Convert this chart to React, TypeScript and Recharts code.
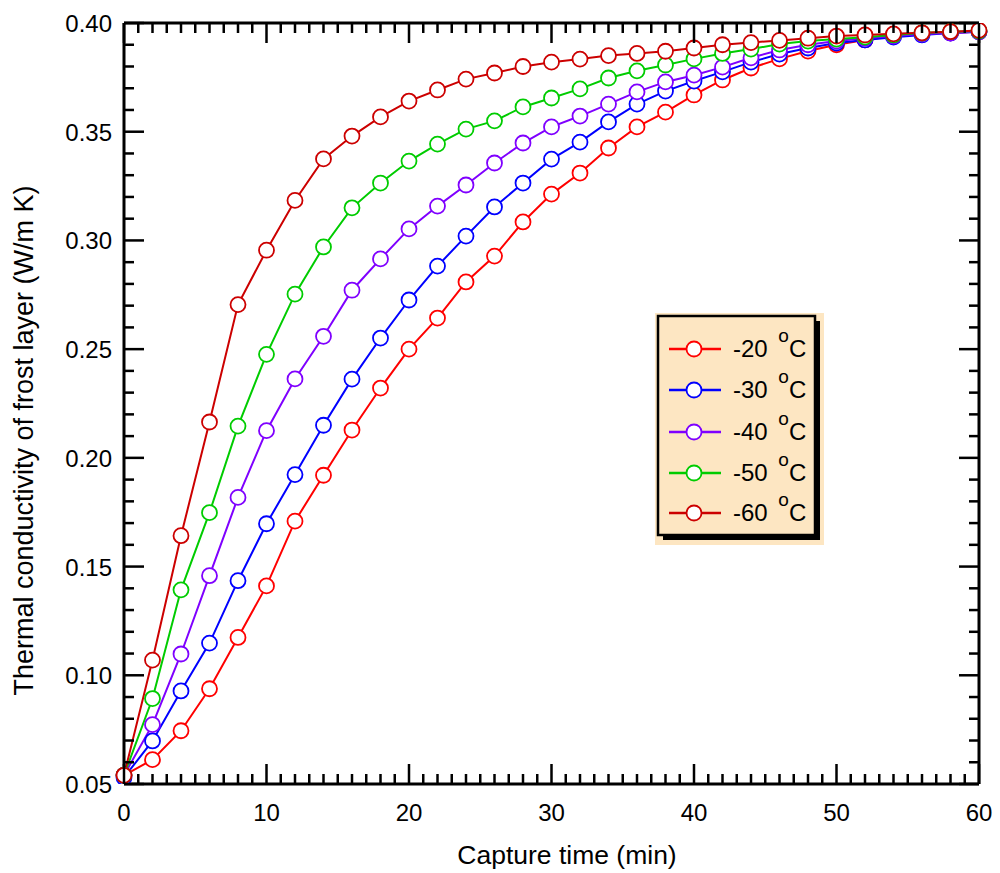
import { Legend, Line, LineChart, ReferenceLine, XAxis, YAxis } from "recharts"

// capture time, min
const time = [0, 2, 4, 6, 8, 10, 12, 14, 16, 18, 20, 22, 24, 26, 28, 30, 32, 34, 36, 38, 40, 42, 44, 46, 48, 50, 52, 54, 56, 58, 60]

// thermal conductivity of frost layer, W/m K
const minus20 = [0.054, 0.0612, 0.0745, 0.0938, 0.1174, 0.1411, 0.1709, 0.192, 0.2128, 0.2321, 0.25, 0.2643, 0.2809, 0.2928, 0.3085, 0.3213, 0.331, 0.3425, 0.3522, 0.359, 0.3669, 0.3738, 0.3793, 0.3835, 0.3871, 0.39, 0.3922, 0.394, 0.395, 0.3955, 0.396]
const minus30 = [0.053, 0.0698, 0.0928, 0.1148, 0.1435, 0.1697, 0.1923, 0.215, 0.2362, 0.2551, 0.2726, 0.2882, 0.302, 0.3154, 0.3264, 0.3374, 0.3452, 0.3545, 0.3627, 0.3687, 0.3733, 0.3775, 0.382, 0.3857, 0.3885, 0.3908, 0.3922, 0.3935, 0.3945, 0.3954, 0.396]
const minus40 = [0.054, 0.0773, 0.1098, 0.1458, 0.1818, 0.2125, 0.2363, 0.2559, 0.2771, 0.2915, 0.3053, 0.3158, 0.3255, 0.3356, 0.3448, 0.3522, 0.3572, 0.3627, 0.3683, 0.3729, 0.376, 0.3797, 0.384, 0.3876, 0.39, 0.3917, 0.393, 0.394, 0.3949, 0.3954, 0.396]
const minus50 = [0.054, 0.0893, 0.1393, 0.1748, 0.2146, 0.2476, 0.2753, 0.297, 0.315, 0.3264, 0.3365, 0.3443, 0.3512, 0.355, 0.3614, 0.3655, 0.3697, 0.3747, 0.378, 0.3807, 0.3835, 0.386, 0.388, 0.3903, 0.3917, 0.3926, 0.3935, 0.3945, 0.3954, 0.396, 0.3963]
const minus60 = [0.054, 0.107, 0.1642, 0.2165, 0.2705, 0.2955, 0.3184, 0.3375, 0.348, 0.3568, 0.3641, 0.3692, 0.3742, 0.377, 0.38, 0.382, 0.3834, 0.385, 0.386, 0.387, 0.3885, 0.39, 0.391, 0.392, 0.393, 0.394, 0.3945, 0.395, 0.3955, 0.396, 0.3966]

const seriesNames = ["-20", "-30", "-40", "-50", "-60"]
const seriesKeys = ["m20", "m30", "m40", "m50", "m60"]
const seriesValues = [minus20, minus30, minus40, minus50, minus60]
const seriesColors = ["#ff0000", "#0000ff", "#7f00ff", "#00cc00", "#cc0000"]

// axis ticks: minor every 1 min / 0.01, labels on majors
const xTicks = Array.from({ length: 61 }, (_, i) => i)
const yTicks = Array.from({ length: 36 }, (_, i) => Math.round((0.05 + i * 0.01) * 100) / 100)

const data = time.map((t, i) => {
    const row: Record<string, number> = { t }
    seriesKeys.forEach((k, j) => { row[k] = seriesValues[j][i] })
    return row
})

const FONT = "'Liberation Sans', Arial, sans-serif"
const PLOT_W = 855
const PLOT_H = 761
const TICK_W = 2.5
const LEGEND_BG = "#fde6c2"

function XTick(props: any) {
    const { x, y, payload } = props
    const v = payload.value
    const major = v % 10 === 0
    const len = major ? 20 : 10
    return (
        <g>
            <line x1={x} x2={x} y1={y} y2={y - len} stroke="#000" strokeWidth={TICK_W} />
            <line x1={x} x2={x} y1={y - PLOT_H} y2={y - PLOT_H + len} stroke="#000" strokeWidth={TICK_W} />
            {major && (
                <text x={x} y={y + 37} textAnchor="middle" fontSize={24} fontFamily={FONT} fill="#000">{v}</text>
            )}
        </g>
    )
}

function YTick(props: any) {
    const { x, y, payload } = props
    const v = payload.value
    const major = Math.round(v * 100) % 5 === 0
    const len = major ? 20 : 10
    return (
        <g>
            <line x1={x} x2={x + len} y1={y} y2={y} stroke="#000" strokeWidth={TICK_W} />
            <line x1={x + PLOT_W} x2={x + PLOT_W - len} y1={y} y2={y} stroke="#000" strokeWidth={TICK_W} />
            {major && (
                <text x={x - 12} y={y + 9} textAnchor="end" fontSize={24} fontFamily={FONT} fill="#000">{v.toFixed(2)}</text>
            )}
        </g>
    )
}

function LegendBox() {
    const rows = [36, 77, 119, 160, 200]
    return (
        <svg width={170} height={233} style={{ display: "block" }}>
            <rect x={0} y={0} width={169} height={232} fill={LEGEND_BG} />
            <rect x={8} y={8} width={157} height={219} fill="#000" />
            <rect x={3} y={3} width={157} height={219} fill={LEGEND_BG} stroke="#000" strokeWidth={2.5} />
            {seriesNames.map((name, i) => (
                <g key={name}>
                    <line x1={14} x2={66} y1={rows[i]} y2={rows[i]} stroke={seriesColors[i]} strokeWidth={2.5} />
                    <circle cx={39} cy={rows[i]} r={7.5} fill="#fff" stroke={seriesColors[i]} strokeWidth={1.8} />
                    <text x={78} y={rows[i] + 8} fontSize={24} fontFamily={FONT} fill="#000">
                        {name + " "}
                        <tspan dx={4} dy={-15} fontSize={19}>o</tspan>
                        <tspan dy={15}>C</tspan>
                    </text>
                </g>
            ))}
        </svg>
    )
}

export default function App() {
    return (
        <div style={{ position: "absolute", left: 0, top: 0, width: 1000, height: 873, background: "#fff" }}>
            <LineChart width={1000} height={873} data={data} margin={{ top: 23, right: 21, bottom: 29, left: 54 }}>
                <XAxis
                    dataKey="t"
                    type="number"
                    domain={[0, 60]}
                    ticks={xTicks}
                    interval={0}
                    height={60}
                    tickSize={0}
                    tickMargin={0}
                    tickLine={false}
                    axisLine={{ stroke: "#000", strokeWidth: 3 }}
                    tick={(p: any) => <XTick {...p} />}
                    label={{
                        content: (p: any) => (
                            <text x={567} y={p.viewBox.y + 80} textAnchor="middle" fontSize={26.5} fontFamily={FONT} fill="#000">
                                Capture time (min)
                            </text>
                        ),
                    }}
                />
                <YAxis
                    type="number"
                    domain={[0.05, 0.4]}
                    allowDataOverflow
                    ticks={yTicks}
                    interval={0}
                    width={70}
                    tickSize={0}
                    tickMargin={0}
                    tickLine={false}
                    axisLine={{ stroke: "#000", strokeWidth: 3 }}
                    tick={(p: any) => <YTick {...p} />}
                    label={{
                        content: (p: any) => {
                            const cy = p.viewBox.y + p.viewBox.height / 2 + 37
                            return (
                                <text x={33} y={cy} transform={`rotate(-90, 33, ${cy})`} textAnchor="middle" fontSize={27} fontFamily={FONT} fill="#000">
                                    Thermal conductivity of frost layer (W/m K)
                                </text>
                            )
                        },
                    }}
                />
                <ReferenceLine y={0.4} stroke="#000" strokeWidth={3} />
                <ReferenceLine x={60} stroke="#000" strokeWidth={3} />
                {seriesKeys.map((k, i) => (
                    <Line
                        key={k}
                        dataKey={k}
                        name={seriesNames[i]}
                        stroke={seriesColors[i]}
                        strokeWidth={2}
                        dot={{ r: 7.5, fill: "#fff", stroke: seriesColors[i], strokeWidth: 1.8 }}
                        isAnimationActive={false}
                    />
                ))}
                <Legend
                    layout="horizontal"
                    verticalAlign="middle"
                    align="center"
                    content={() => <LegendBox />}
                    wrapperStyle={{ position: "absolute", left: 655, top: 313, width: 170, height: 233 }}
                />
            </LineChart>
        </div>
    )
}
